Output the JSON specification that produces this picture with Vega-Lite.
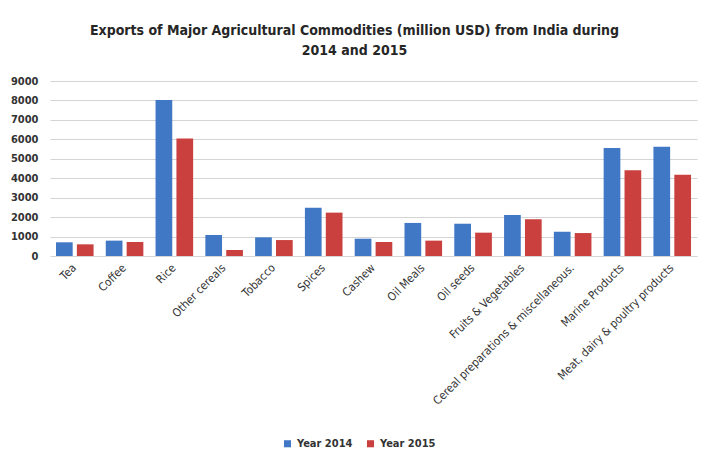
{
  "$schema": "https://vega.github.io/schema/vega-lite/v6.json",
  "width": 647,
  "height": 175,
  "autosize": {"type": "none"},
  "padding": {"left": 50, "top": 81, "right": 11, "bottom": 203},
  "background": "white",
  "title": {
    "text": ["Exports of Major Agricultural Commodities (million USD) from India during", "2014 and 2015"],
    "anchor": "middle",
    "frame": "group",
    "dx": -19,
    "offset": 17,
    "font": "'Liberation Sans Narrow', 'DejaVu Sans Condensed', sans-serif",
    "fontSize": 14,
    "fontWeight": "bold",
    "color": "#262626",
    "lineHeight": 20
  },
  "data": {
    "values": [
      {"commodity": "Tea", "year": "Year 2014", "value": 705},
      {"commodity": "Tea", "year": "Year 2015", "value": 600},
      {"commodity": "Coffee", "year": "Year 2014", "value": 790},
      {"commodity": "Coffee", "year": "Year 2015", "value": 720},
      {"commodity": "Rice", "year": "Year 2014", "value": 8020},
      {"commodity": "Rice", "year": "Year 2015", "value": 6040},
      {"commodity": "Other cereals", "year": "Year 2014", "value": 1080},
      {"commodity": "Other cereals", "year": "Year 2015", "value": 310},
      {"commodity": "Tobacco", "year": "Year 2014", "value": 960},
      {"commodity": "Tobacco", "year": "Year 2015", "value": 820},
      {"commodity": "Spices", "year": "Year 2014", "value": 2485},
      {"commodity": "Spices", "year": "Year 2015", "value": 2230},
      {"commodity": "Cashew", "year": "Year 2014", "value": 890},
      {"commodity": "Cashew", "year": "Year 2015", "value": 720},
      {"commodity": "Oil Meals", "year": "Year 2014", "value": 1700},
      {"commodity": "Oil Meals", "year": "Year 2015", "value": 790},
      {"commodity": "Oil seeds", "year": "Year 2014", "value": 1660},
      {"commodity": "Oil seeds", "year": "Year 2015", "value": 1200},
      {"commodity": "Fruits & Vegetables", "year": "Year 2014", "value": 2110},
      {"commodity": "Fruits & Vegetables", "year": "Year 2015", "value": 1890},
      {"commodity": "Cereal preparations & miscellaneous.", "year": "Year 2014", "value": 1250},
      {"commodity": "Cereal preparations & miscellaneous.", "year": "Year 2015", "value": 1180},
      {"commodity": "Marine Products", "year": "Year 2014", "value": 5555},
      {"commodity": "Marine Products", "year": "Year 2015", "value": 4410},
      {"commodity": "Meat, dairy & poultry products", "year": "Year 2014", "value": 5620},
      {"commodity": "Meat, dairy & poultry products", "year": "Year 2015", "value": 4180}
    ]
  },
  "mark": {"type": "bar"},
  "encoding": {
    "x": {
      "field": "commodity",
      "type": "nominal",
      "sort": null,
      "title": null,
      "scale": {"paddingInner": 0.245, "paddingOuter": 0.12},
      "axis": {
        "labelAngle": -45,
        "labelAlign": "right",
        "labelBaseline": "middle",
        "labelPadding": 10,
        "ticks": false,
        "domain": false,
        "labelFont": "'Liberation Sans Narrow', 'DejaVu Sans Condensed', sans-serif",
        "labelFontSize": 11.5,
        "labelColor": "#333333",
        "labelLimit": 300
      }
    },
    "xOffset": {
      "field": "year",
      "type": "nominal",
      "scale": {"paddingInner": 0.2, "paddingOuter": 0}
    },
    "y": {
      "field": "value",
      "type": "quantitative",
      "title": null,
      "scale": {"domain": [0, 9000], "nice": false},
      "axis": {
        "values": [0, 1000, 2000, 3000, 4000, 5000, 6000, 7000, 8000, 9000],
        "format": "d",
        "ticks": false,
        "domain": false,
        "labelPadding": 12,
        "gridColor": "#d4d4d4",
        "gridWidth": 1.2,
        "labelFont": "'Liberation Sans Narrow', 'DejaVu Sans Condensed', sans-serif",
        "labelFontSize": 11,
        "labelFontWeight": "bold",
        "labelColor": "#333333"
      }
    },
    "color": {
      "field": "year",
      "type": "nominal",
      "title": null,
      "scale": {"domain": ["Year 2014", "Year 2015"], "range": ["#4178c6", "#c9403f"]},
      "legend": {
        "orient": "none",
        "legendX": 232,
        "legendY": 357,
        "direction": "horizontal",
        "symbolType": "square",
        "symbolSize": 50,
        "symbolStrokeWidth": 0,
        "columnPadding": 12,
        "labelFont": "'Liberation Sans Narrow', 'DejaVu Sans Condensed', sans-serif",
        "labelFontSize": 11,
        "labelFontWeight": "bold",
        "labelColor": "#333333"
      }
    }
  },
  "config": {"view": {"stroke": null}}
}
